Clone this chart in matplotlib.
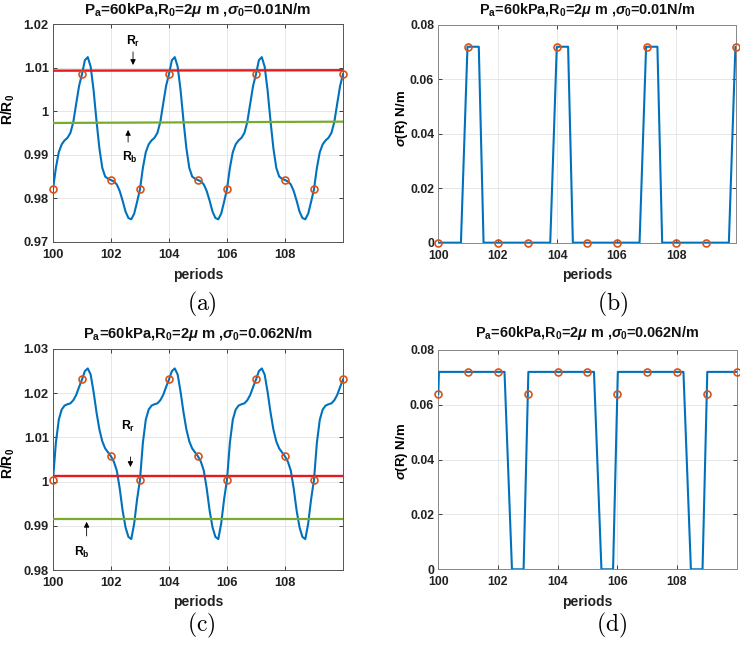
import numpy as np
import matplotlib
matplotlib.use("Agg")
import matplotlib.pyplot as plt
from matplotlib.ticker import FixedLocator, FixedFormatter

plt.rcParams['font.family'] = ['Liberation Sans', 'DejaVu Sans']
plt.rcParams['font.weight'] = 'bold'
plt.rcParams['mathtext.fontset'] = 'custom'
plt.rcParams['mathtext.rm'] = 'Liberation Sans:bold'
plt.rcParams['mathtext.bf'] = 'Liberation Sans:bold'
plt.rcParams['mathtext.it'] = 'Liberation Sans:bold:italic'
plt.rcParams['mathtext.default'] = 'bf'

# ---------------- data ----------------
periods = np.round(np.arange(100.0, 110.0001, 0.1), 1)

# (a) R/R0, sigma0 = 0.01 N/m, sampled every 0.1 period
R_a = [0.9821, 0.9870, 0.9906, 0.9924, 0.9933, 0.9939, 0.9950, 0.9975, 1.0017, 1.0058,
       1.0085, 1.0117, 1.0124, 1.0102, 1.0048, 0.9978, 0.9915, 0.9870, 0.9850, 0.9845,
       0.9842, 0.9839, 0.9832, 0.9817, 0.9795, 0.9770, 0.9755, 0.9752, 0.9765, 0.9792,
       0.9821, 0.9870, 0.9906, 0.9924, 0.9933, 0.9939, 0.9950, 0.9975, 1.0017, 1.0058,
       1.0085, 1.0117, 1.0124, 1.0102, 1.0048, 0.9978, 0.9915, 0.9870, 0.9850, 0.9845,
       0.9842, 0.9839, 0.9832, 0.9817, 0.9795, 0.9770, 0.9755, 0.9752, 0.9765, 0.9792,
       0.9821, 0.9870, 0.9906, 0.9924, 0.9933, 0.9939, 0.9950, 0.9975, 1.0017, 1.0058,
       1.0085, 1.0117, 1.0124, 1.0102, 1.0048, 0.9978, 0.9915, 0.9870, 0.9850, 0.9845,
       0.9842, 0.9839, 0.9832, 0.9817, 0.9795, 0.9770, 0.9755, 0.9752, 0.9765, 0.9792,
       0.9821, 0.9870, 0.9906, 0.9924, 0.9933, 0.9939, 0.9950, 0.9975, 1.0017, 1.0058,
       1.0085]

# (c) R/R0, sigma0 = 0.062 N/m
R_c = [1.0004, 1.0088, 1.0140, 1.0163, 1.0172, 1.0175, 1.0177, 1.0184, 1.0196, 1.0214,
       1.0231, 1.0250, 1.0256, 1.0242, 1.0203, 1.0157, 1.0118, 1.0091, 1.0075, 1.0066,
       1.0057, 1.0045, 1.0025, 0.9985, 0.9935, 0.9897, 0.9875, 0.9870, 0.9905, 0.9960,
       1.0004, 1.0088, 1.0140, 1.0163, 1.0172, 1.0175, 1.0177, 1.0184, 1.0196, 1.0214,
       1.0231, 1.0250, 1.0256, 1.0242, 1.0203, 1.0157, 1.0118, 1.0091, 1.0075, 1.0066,
       1.0057, 1.0045, 1.0025, 0.9985, 0.9935, 0.9897, 0.9875, 0.9870, 0.9905, 0.9960,
       1.0004, 1.0088, 1.0140, 1.0163, 1.0172, 1.0175, 1.0177, 1.0184, 1.0196, 1.0214,
       1.0231, 1.0250, 1.0256, 1.0242, 1.0203, 1.0157, 1.0118, 1.0091, 1.0075, 1.0066,
       1.0057, 1.0045, 1.0025, 0.9985, 0.9935, 0.9897, 0.9875, 0.9870, 0.9905, 0.9960,
       1.0004, 1.0088, 1.0140, 1.0163, 1.0172, 1.0175, 1.0177, 1.0184, 1.0196, 1.0214,
       1.0231]

# markers at integer periods
mark_periods = [100, 101, 102, 103, 104, 105, 106, 107, 108, 109, 110]
mark_a = [0.9821, 1.0085, 0.9842, 0.9821, 1.0085, 0.9842, 0.9821, 1.0085, 0.9842, 0.9821, 1.0085]
mark_c = [1.0004, 1.0231, 1.0057, 1.0004, 1.0231, 1.0057, 1.0004, 1.0231, 1.0057, 1.0004, 1.0231]
mark_b = [0, 0.072, 0, 0, 0.072, 0, 0, 0.072, 0, 0, 0.072]
mark_d = [0.064, 0.072, 0.072, 0.064, 0.072, 0.072, 0.064, 0.072, 0.072, 0.064, 0.072]

# Rr / Rb reference lines (values at period 100 and 110)
line_x = [100, 110]
Rr_a = [1.0093, 1.0094]
Rb_a = [0.9973, 0.9976]
Rr_c = [1.0013, 1.0013]
Rb_c = [0.9915, 0.9915]

# (b) sigma(R), sigma0 = 0.01
sig_b_t = [100, 100.76, 100.98, 101.36, 101.52, 103.76, 103.98, 104.36, 104.52,
           106.76, 106.98, 107.36, 107.52, 109.76, 109.98, 110]
sig_b_v = [0, 0, 0.072, 0.072, 0, 0, 0.072, 0.072, 0, 0, 0.072, 0.072, 0, 0, 0.072, 0.072]

# (d) sigma(R), sigma0 = 0.062
sig_d_t = [100, 100.02, 102.22, 102.47, 102.86, 103.02, 105.22, 105.47, 105.86, 106.02,
           108.22, 108.47, 108.86, 109.02, 110]
sig_d_v = [0.064, 0.072, 0.072, 0, 0, 0.072, 0.072, 0, 0, 0.072, 0.072, 0, 0, 0.072, 0.072]

xticks = [100, 102, 104, 106, 108]
xticklabels = ['100', '102', '104', '106', '108']
yticks_a = [0.97, 0.98, 0.99, 1.00, 1.01, 1.02]
yticklabels_a = ['0.97', '0.98', '0.99', '1', '1.01', '1.02']
yticks_c = [0.98, 0.99, 1.00, 1.01, 1.02, 1.03]
yticklabels_c = ['0.98', '0.99', '1', '1.01', '1.02', '1.03']
yticks_s = [0, 0.02, 0.04, 0.06, 0.08]
yticklabels_s = ['0', '0.02', '0.04', '0.06', '0.08']

title_a = r'P$_a$=60kPa,R$_0$=2$\mathit{\mu}$ m ,$\mathit{\sigma}_0$=0.01N/m'
title_c = r'P$_a$=60kPa,R$_0$=2$\mathit{\mu}$ m ,$\mathit{\sigma}_0$=0.062N/m'

BLUE = '#0072BD'
ORANGE = '#D95319'
RED = '#E8191C'
GREEN = '#77AC30'

fig = plt.figure(figsize=(7.4, 6.47), dpi=100)


def style(ax, yt, ytl, ylim, spine_col, fs):
    ax.set_xlim(100, 110)
    ax.set_ylim(*ylim)
    ax.xaxis.set_major_locator(FixedLocator(xticks))
    ax.xaxis.set_major_formatter(FixedFormatter(xticklabels))
    ax.yaxis.set_major_locator(FixedLocator(yt))
    ax.yaxis.set_major_formatter(FixedFormatter(ytl))
    ax.tick_params(direction='in', length=3, width=0.6, top=True, right=True,
                   labelsize=fs, colors='#222222')
    ax.tick_params(axis='x', pad=5)
    ax.tick_params(axis='y', pad=3)
    for sp in ax.spines.values():
        sp.set_color(spine_col)
        sp.set_linewidth(0.7)
    ax.grid(True, color='#e3e3e3', linewidth=0.6)
    ax.set_axisbelow(True)


def add_title(ax, txt, ypos, fs):
    ax.text(0.5, ypos, txt, transform=ax.transAxes, ha='center', va='center',
            fontsize=fs, fontweight='bold', color='#111111')


def add_xlabel(ax, ypos, fs):
    ax.text(0.5, ypos, 'periods', transform=ax.transAxes, ha='center', va='center',
            fontsize=fs, fontweight='bold', color='#222222')


# ---------------- (a) ----------------
axA = fig.add_axes([0.0716, 0.6260, 0.3919, 0.3369])
style(axA, yticks_a, yticklabels_a, (0.97, 1.02), '#555555', 9.3)
axA.plot(periods, R_a, color=BLUE, lw=1.5, zorder=3)
axA.plot(line_x, Rr_a, color=RED, lw=1.7, zorder=4)
axA.plot(line_x, Rb_a, color=GREEN, lw=1.6, zorder=4)
axA.plot(mark_periods, mark_a, 'o', mfc='none', mec=ORANGE, ms=5, mew=1.2, zorder=5, clip_on=False)
add_title(axA, title_a, 1.066, 10.9)
add_xlabel(axA, -0.151, 10)
axA.set_ylabel('R/R$_0$', fontsize=10, fontweight='bold')
axA.yaxis.set_label_coords(-0.125, 0.61)
axA.annotate('', xy=(102.76, 1.0106), xytext=(102.76, 1.0136),
             arrowprops=dict(arrowstyle='-|>', lw=0.6, color='k', mutation_scale=8, shrinkA=0, shrinkB=0))
axA.text(102.78, 1.0159, 'R$_r$', ha='center', va='center', fontsize=8.8, fontweight='bold')
axA.annotate('', xy=(102.59, 0.9957), xytext=(102.59, 0.9929),
             arrowprops=dict(arrowstyle='-|>', lw=0.6, color='k', mutation_scale=8, shrinkA=0, shrinkB=0))
axA.text(102.65, 0.9893, 'R$_b$', ha='center', va='center', fontsize=8.8, fontweight='bold')

# ---------------- (b) ----------------
axB = fig.add_axes([0.5923, 0.6249, 0.4023, 0.3365])
style(axB, yticks_s, yticklabels_s, (0, 0.08), '#888888', 8.8)
axB.plot(sig_b_t, sig_b_v, color=BLUE, lw=1.5, zorder=3)
axB.plot(mark_periods, mark_b, 'o', mfc='none', mec=ORANGE, ms=5, mew=1.2, zorder=5, clip_on=False)
add_title(axB, title_a, 1.070, 10.4)
add_xlabel(axB, -0.148, 10)
axB.set_ylabel(r'$\mathit{\sigma}$(R) N/m', fontsize=9.5, fontweight='bold')
axB.yaxis.set_label_coords(-0.095, 0.57)

# ---------------- (c) ----------------
axC = fig.add_axes([0.0716, 0.1190, 0.3919, 0.3416])
style(axC, yticks_c, yticklabels_c, (0.98, 1.03), '#555555', 9.3)
axC.plot(periods, R_c, color=BLUE, lw=1.5, zorder=3)
axC.plot(line_x, Rr_c, color=RED, lw=1.7, zorder=4)
axC.plot(line_x, Rb_c, color=GREEN, lw=1.6, zorder=4)
axC.plot(mark_periods, mark_c, 'o', mfc='none', mec=ORANGE, ms=5, mew=1.2, zorder=5, clip_on=False)
add_title(axC, title_c, 1.070, 10.6)
add_xlabel(axC, -0.143, 10)
axC.set_ylabel('R/R$_0$', fontsize=10, fontweight='bold')
axC.yaxis.set_label_coords(-0.125, 0.48)
axC.annotate('', xy=(102.67, 1.0033), xytext=(102.67, 1.0056),
             arrowprops=dict(arrowstyle='-|>', lw=0.6, color='k', mutation_scale=8, shrinkA=0, shrinkB=0))
axC.text(102.6, 1.0124, 'R$_r$', ha='center', va='center', fontsize=8.8, fontweight='bold')
axC.annotate('', xy=(101.16, 0.9909), xytext=(101.16, 0.9877),
             arrowprops=dict(arrowstyle='-|>', lw=0.6, color='k', mutation_scale=8, shrinkA=0, shrinkB=0))
axC.text(101.0, 0.9839, 'R$_b$', ha='center', va='center', fontsize=8.8, fontweight='bold')

# ---------------- (d) ----------------
axD = fig.add_axes([0.5923, 0.1201, 0.4030, 0.3390])
style(axD, yticks_s, yticklabels_s, (0, 0.08), '#888888', 8.8)
axD.plot(sig_d_t, sig_d_v, color=BLUE, lw=1.5, zorder=3)
axD.plot(mark_periods, mark_d, 'o', mfc='none', mec=ORANGE, ms=5, mew=1.2, zorder=5, clip_on=False)
add_title(axD, title_c, 1.076, 10.4)
add_xlabel(axD, -0.148, 10)
axD.set_ylabel(r'$\mathit{\sigma}$(R) N/m', fontsize=9.5, fontweight='bold')
axD.yaxis.set_label_coords(-0.095, 0.538)

# sub-figure labels
for lab, x, y in [('(a)', 0.2726, 0.530), ('(b)', 0.8284, 0.530),
                  ('(c)', 0.2726, 0.034), ('(d)', 0.8266, 0.034)]:
    fig.text(x, y, r'$\mathrm{' + lab + '}$', ha='center', va='center', fontsize=17,
             math_fontfamily='cm', fontweight='normal')

fig.savefig('out.png', dpi=100)
